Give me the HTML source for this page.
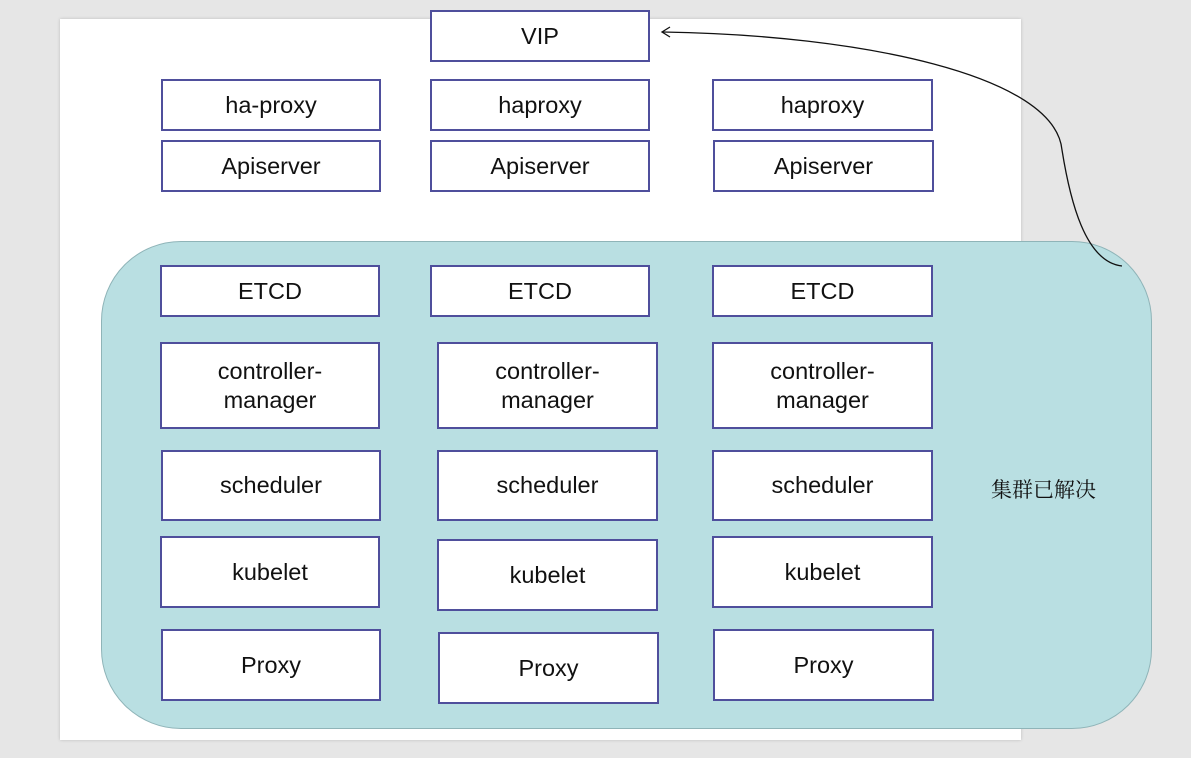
<!DOCTYPE html>
<html><head><meta charset="utf-8"><style>
body{margin:0;width:1191px;height:758px;background:#e6e6e6;position:relative;overflow:hidden;font-family:"Liberation Sans",sans-serif}
.pg{position:absolute;left:60px;top:19px;width:961px;height:721px;background:#fff;box-shadow:0 0 3px #bbb}
.cl{position:absolute;left:101px;top:241px;width:1049px;height:486px;background:#b9dfe2;border:1.5px solid #8fb4b8;border-radius:80px}
.b{position:absolute;box-sizing:border-box;background:#fff;border:2px solid #4f4f9c;display:flex;align-items:center;justify-content:center;text-align:center;font-size:23.5px;line-height:29px;color:#111}
.t{position:absolute;left:991px;top:474px;font-family:"Noto Serif CJK SC",serif;font-size:21px;color:#111}
</style></head><body>
<div class="pg"></div>
<div class="cl"></div>
<div class="b" style="left:430px;top:10px;width:220px;height:52px">VIP</div>
<div class="b" style="left:161px;top:79px;width:220px;height:52px">ha-proxy</div>
<div class="b" style="left:430px;top:79px;width:220px;height:52px">haproxy</div>
<div class="b" style="left:712px;top:79px;width:221px;height:52px">haproxy</div>
<div class="b" style="left:161px;top:140px;width:220px;height:52px">Apiserver</div>
<div class="b" style="left:430px;top:140px;width:220px;height:52px">Apiserver</div>
<div class="b" style="left:713px;top:140px;width:221px;height:52px">Apiserver</div>
<div class="b" style="left:160px;top:265px;width:220px;height:52px">ETCD</div>
<div class="b" style="left:430px;top:265px;width:220px;height:52px">ETCD</div>
<div class="b" style="left:712px;top:265px;width:221px;height:52px">ETCD</div>
<div class="b" style="left:160px;top:342px;width:220px;height:87px">controller-<br>manager</div>
<div class="b" style="left:437px;top:342px;width:221px;height:87px">controller-<br>manager</div>
<div class="b" style="left:712px;top:342px;width:221px;height:87px">controller-<br>manager</div>
<div class="b" style="left:161px;top:450px;width:220px;height:71px">scheduler</div>
<div class="b" style="left:437px;top:450px;width:221px;height:71px">scheduler</div>
<div class="b" style="left:712px;top:450px;width:221px;height:71px">scheduler</div>
<div class="b" style="left:160px;top:536px;width:220px;height:72px">kubelet</div>
<div class="b" style="left:437px;top:539px;width:221px;height:72px">kubelet</div>
<div class="b" style="left:712px;top:536px;width:221px;height:72px">kubelet</div>
<div class="b" style="left:161px;top:629px;width:220px;height:72px">Proxy</div>
<div class="b" style="left:438px;top:632px;width:221px;height:72px">Proxy</div>
<div class="b" style="left:713px;top:629px;width:221px;height:72px">Proxy</div>
<div class="t">集群已解决</div>
<svg style="position:absolute;left:0;top:0" width="1191" height="758">
<path d="M1122,266 C1085,262 1070,200 1062,150 C1055,75 860,35 663,32" fill="none" stroke="#111" stroke-width="1.3"/>
<path d="M670,27 L662,32 L670,37" fill="none" stroke="#111" stroke-width="1.3"/>
</svg>
</body></html>
